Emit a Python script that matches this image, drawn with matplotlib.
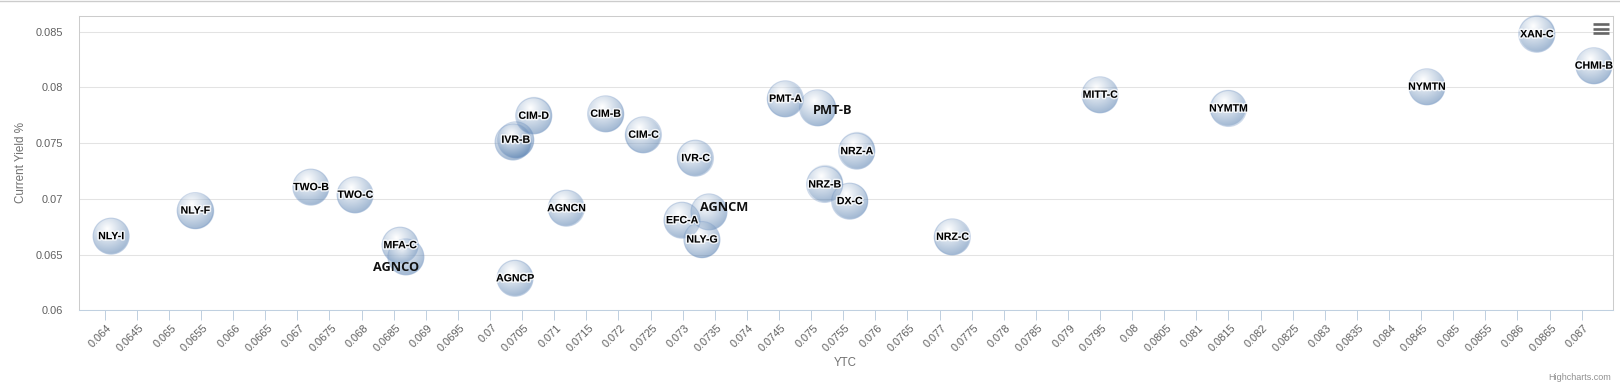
import numpy as np
import matplotlib
matplotlib.use("Agg")
import matplotlib.pyplot as plt
from matplotlib.ticker import MultipleLocator, FuncFormatter
from matplotlib.lines import Line2D
from matplotlib.transforms import ScaledTranslation
import matplotlib.patheffects as pe

# ---------------- data ----------------
names = ["NLY-I", "NLY-F", "TWO-B", "TWO-C", "MFA-C", "AGNCO", "AGNCP", "IVR-A",
         "IVR-B", "CIM-D", "AGNCN", "CIM-B", "CIM-C", "EFC-A", "IVR-C", "AGNCM",
         "NLY-G", "PMT-A", "PMT-B", "NRZ-B", "NRZ-A", "DX-C", "NRZ-C", "MITT-C",
         "NYMTM", "NYMTN", "XAN-C", "CHMI-B"]
ytc = [0.06410, 0.06541, 0.06721, 0.06790, 0.06860, 0.06869, 0.07039, 0.07036,
       0.07040, 0.07068, 0.07119, 0.07180, 0.07239, 0.07299, 0.07320, 0.07341,
       0.07330, 0.07460, 0.07510, 0.07521, 0.07571, 0.07560, 0.07720, 0.07950,
       0.08150, 0.08459, 0.08630, 0.08719]
current_yield = [0.06665, 0.06895, 0.07105, 0.07036, 0.06584, 0.06479, 0.06287, 0.07510,
                 0.07530, 0.07745, 0.06916, 0.07763, 0.07575, 0.06808, 0.07365, 0.06883,
                 0.06635, 0.07898, 0.07817, 0.07129, 0.07428, 0.06979, 0.06659, 0.07934,
                 0.07811, 0.08006, 0.08477, 0.08195]
x_title = "YTC"
y_title = "Current Yield %"
credit = "Highcharts.com"

# labels hidden by overlap, and labels drawn large with an offset (px)
hidden_labels = {"IVR-A"}
big_label_offsets = {"AGNCO": (-10.3, -10.7), "AGNCM": (14.8, 4.3), "PMT-B": (14.8, -2.7)}

# ---------------- layout ----------------
W, H = 1620, 391
fig = plt.figure(figsize=(W / 100, H / 100), dpi=100)
L, R_, T, B = 78.7, 1612.7, 16.0, 310.3
ax = fig.add_axes([L / W, 1 - B / H, (R_ - L) / W, (B - T) / H])
ax.set_xlim(0.063595, 0.087483)
ax.set_ylim(0.06, 0.086409)
ax.set_facecolor("white")

ax.xaxis.set_major_locator(MultipleLocator(0.0005))
ax.yaxis.set_major_locator(MultipleLocator(0.005))
fmt = FuncFormatter(lambda v, p: f"{round(v, 4):g}")
ax.xaxis.set_major_formatter(fmt)
ax.yaxis.set_major_formatter(fmt)

ax.grid(axis="y", color="#e3e3e3", linewidth=0.75)
ax.set_axisbelow(True)
for s in ["top", "left", "right"]:
    ax.spines[s].set_color("#cccccc")
    ax.spines[s].set_linewidth(0.75)
ax.spines["bottom"].set_color("#C0D0E0")
ax.spines["bottom"].set_linewidth(0.75)

ax.tick_params(axis="y", length=0, pad=11, labelsize=7.9, labelcolor="#606060")
ax.tick_params(axis="x", direction="out", length=7.2, width=0.72, color="#C0D0E0",
               pad=1.7, labelsize=7.9, labelcolor="#606060")
for lab in ax.get_xticklabels():
    lab.set_rotation(45)
    lab.set_ha("right")
    lab.set_va("top")
    lab.set_rotation_mode("anchor")
    lab.set_fontfamily("Liberation Sans")
    lab.set_transform(lab.get_transform() + ScaledTranslation(2 / 100, 0, fig.dpi_scale_trans))
for lab in ax.get_yticklabels():
    lab.set_fontfamily("Liberation Sans")

# ---------------- bubbles ----------------
RAD = 18.0
ss = 4
half = RAD + 1.0
n = int(2 * half * ss)
coords = (np.arange(n) + 0.5) / ss - half
dx, dy = np.meshgrid(coords, coords)  # dy grows downward (image rows)
dist = np.hypot(dx, dy)
mask = np.clip(RAD + 0.5 - dist, 0, 1)
u = (dx + RAD) / (2 * RAD)
v = (dy + RAD) / (2 * RAD)
t = np.clip(np.hypot(u - 0.4, v - 0.3) / 0.7, 0, 1)
base = np.array([69, 114, 167]) / 255.0
img = np.zeros((n, n, 4))
for c in range(3):
    img[..., c] = (1 - t) * 1.0 + t * base[c]
img[..., 3] = 0.5 * mask

inv = ax.transData.inverted()
for i, (x, y) in enumerate(zip(ytc, current_yield)):
    X, Y = ax.transData.transform((x, y))
    x0, y0 = inv.transform((X - half, Y - half))
    x1, y1 = inv.transform((X + half, Y + half))
    ax.imshow(img, extent=(x0, x1, y0, y1), origin="upper", aspect="auto",
              interpolation="antialiased", zorder=3 + i * 0.01, clip_on=False)

ax.scatter(ytc, current_yield, s=(2 * RAD * 0.72) ** 2, facecolors="none",
           edgecolors=(110 / 255, 145 / 255, 195 / 255, 0.3), linewidths=0.8,
           zorder=4, clip_on=False)
ax.set_xlim(0.063595, 0.087483)
ax.set_ylim(0.06, 0.086409)

# ---------------- labels ----------------
halo = [pe.withStroke(linewidth=2.2, foreground=(1, 1, 1, 0.75))]
for name, x, y in zip(names, ytc, current_yield):
    if name in hidden_labels:
        continue
    if name in big_label_offsets:
        ox, oy = big_label_offsets[name]
        ax.annotate(name, (x, y), xytext=(ox * 0.72, oy * 0.72), textcoords="offset points",
                    ha="center", va="center", fontsize=9.2, fontweight="bold",
                    family="Open Sans", color="#111111", zorder=10, annotation_clip=False)
    else:
        ax.text(x, y, name, ha="center", va="center", fontsize=7.6, fontweight="bold",
                family="Liberation Sans", color="black", zorder=10, path_effects=halo,
                clip_on=False)

# ---------------- titles / chrome ----------------
fig.text(21 / W, 1 - 163 / H, y_title, rotation=90, ha="center", va="center",
         fontsize=8.4, color="#707070", family="Liberation Sans")
fig.text(845.7 / W, 1 - 363 / H, x_title, ha="center", va="center",
         fontsize=8.3, color="#707070", family="Liberation Sans")
fig.text(1611 / W, 1 - 377 / H, credit, ha="right", va="center",
         fontsize=6.5, color="#909090", family="Liberation Sans")

fig.add_artist(Line2D([0, 1], [1 - 1.2 / H] * 2, transform=fig.transFigure,
                      color="#cccccc", linewidth=1.0))
for yy in (24.0, 28.7, 33.3):
    fig.add_artist(Line2D([1592.5 / W, 1609 / W], [1 - yy / H] * 2, transform=fig.transFigure,
                          color="#666666", linewidth=1.9, solid_capstyle="butt"))

fig.savefig("out.png", dpi=100, facecolor="white")
